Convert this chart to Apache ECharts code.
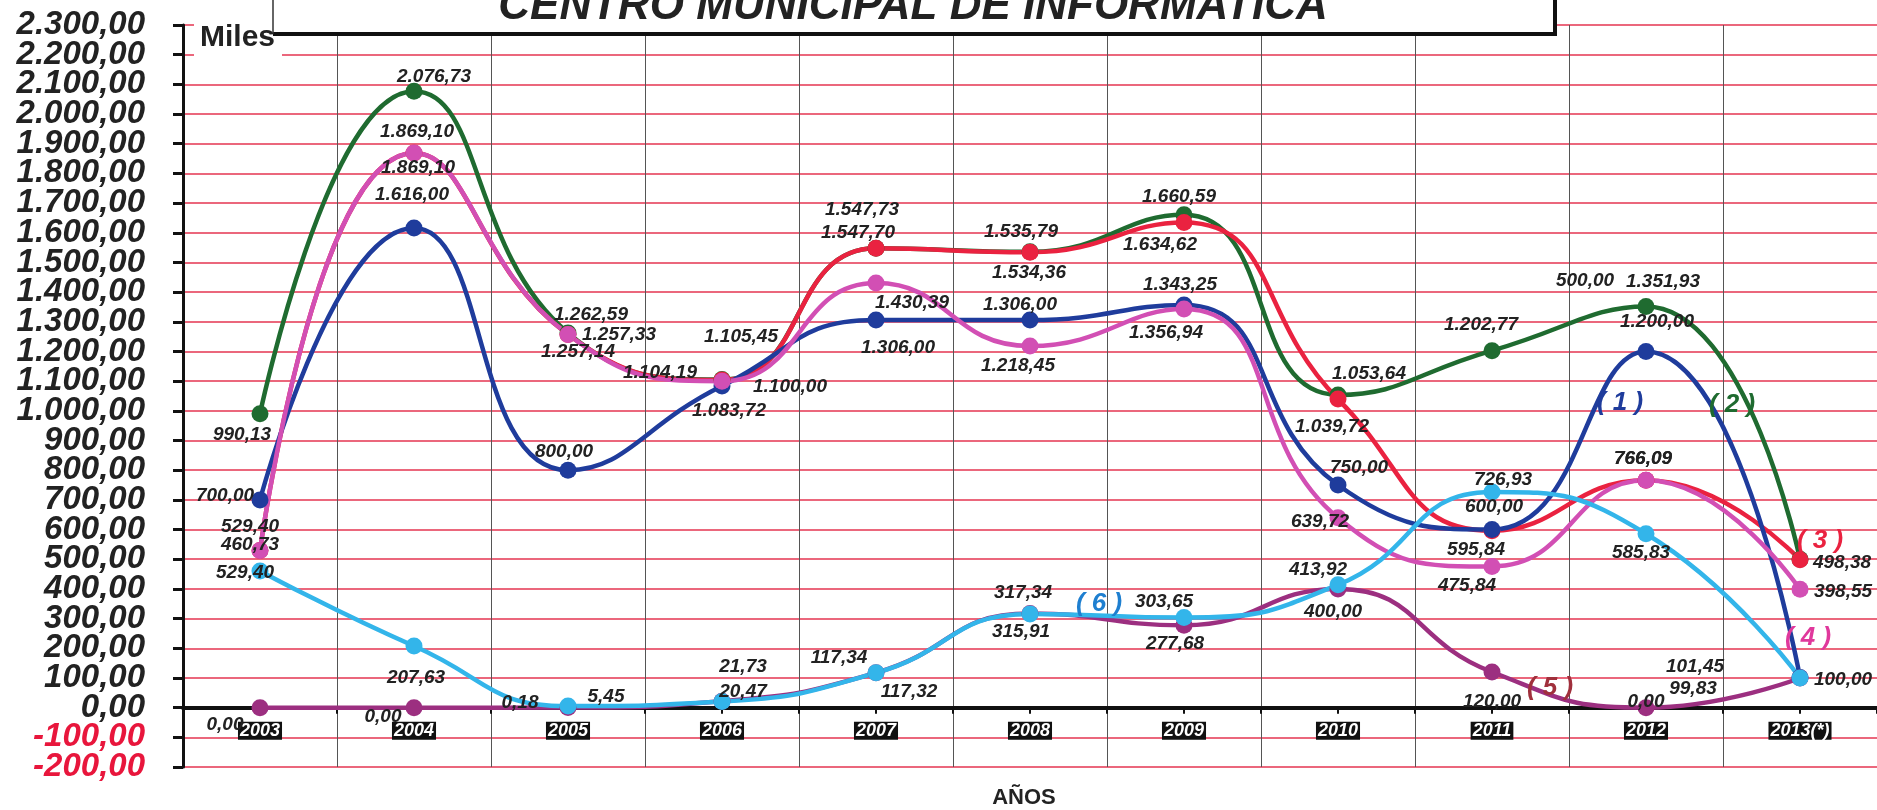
<!DOCTYPE html>
<html>
<head>
<meta charset="utf-8">
<script src="https://cdn.jsdelivr.net/npm/echarts@6/dist/echarts.min.js"></script>
<style>
html,body{margin:0;padding:0;background:#fff;}
#chart{width:1877px;height:810px;}
</style>
</head>
<body>
<div id="chart"></div>
<script>
// ---- data ----
const years = ['2003','2004','2005','2006','2007','2008','2009','2010','2011','2012','2013(*)'];
const serie1 = [700.00, 1616.00, 800.00, 1083.72, 1306.00, 1306.00, 1356.94, 750.00, 600.00, 1200.00, 101.45];
const serie2 = [990.13, 2076.73, 1262.59, 1105.45, 1547.73, 1535.79, 1660.59, 1053.64, 1202.77, 1351.93, 500.00];
const serie3 = [529.40, 1869.10, 1257.33, 1104.19, 1547.70, 1534.36, 1634.62, 1039.72, 595.84, 766.09, 498.38];
const serie4 = [529.40, 1869.10, 1257.14, 1100.00, 1430.39, 1218.45, 1343.25, 639.72, 475.84, 766.09, 398.55];
const serie5 = [0.00, 0.00, 0.18, 21.73, 117.34, 317.34, 277.68, 400.00, 120.00, 0.00, 99.83];
const serie6 = [460.73, 207.63, 5.45, 20.47, 117.32, 315.91, 303.65, 413.92, 726.93, 585.83, 100.00];
const yMin = -200, yMax = 2300, yStep = 100;

// ---- label placement (style) ----
const off1 = [[-35,-4],[-2,-33],[-4,-18],[7,25],[22,28],[-10,-15],[-18,28],[21,-17],[2,-23],[11,-30],[-105,-11]];
const off2 = [[-18,21],[20,-15],[23,-18],[19,-43],[-14,-39],[-9,-20],[-5,-18],[31,-21],[-11,-26],[17,-25],[-215,-278]];
const off3 = [[-10,-24],[3,-21],[51,0],[-62,-7],[-18,-16],[-1,21],[-24,22],[-6,28],[-16,19],[-3,-21],[42,3]];
const off4 = [[-15,22],[4,15],[10,17],[68,6],[36,20],[-12,20],[-4,-24],[-18,4],[-25,19],[-3,-21],[43,2]];
const off5 = [[-35,17],[-31,9],[-48,-5],[21,-34],[-37,-15],[-7,-21],[-9,19],[-5,23],[0,30],[0,-6],[-107,11]];
const off6 = [[-10,-26],[2,32],[38,-9],[21,-10],[33,19],[-9,18],[-20,-16],[-20,-15],[11,-12],[-5,19],[43,2]];

function fmt(v){
  const neg = v < 0;
  const s = Math.abs(v).toFixed(2).split('.');
  const a = s[0].replace(/\B(?=(\d{3})+(?!\d))/g, '.');
  return (neg ? '-' : '') + a + ',' + s[1];
}

const FONT = "'Liberation Sans', Arial, sans-serif";
const GRID = {left: 183, right: 0, top: 25, bottom: 43};
const gridH = 810 - GRID.top - GRID.bottom;
// move the category axis up to the zero line of the value axis
const zeroOffset = -((0 - yMin) / (yMax - yMin)) * gridH;

function mkSeries(name, vals, offs, color){
  return {
    name: name,
    type: 'line',
    smooth: 0.5,
    symbol: 'circle',
    symbolSize: 17,
    lineStyle: {color: color, width: 4.5},
    itemStyle: {color: color},
    label: {
      show: true,
      position: 'inside',
      formatter: p => fmt(p.value),
      color: '#222',
      fontSize: 19,
      fontStyle: 'italic',
      fontWeight: 'bold',
      fontFamily: FONT
    },
    data: vals.map((v, i) => ({value: v, label: {offset: offs[i]}}))
  };
}

const chart = echarts.init(document.getElementById('chart'), null, {renderer: 'canvas'});

const annFont = "italic bold 26px 'Liberation Sans', Arial, sans-serif";
function ann(x, y, t, c){
  return {type: 'text', z: 101, style: {x: x, y: y, text: t, font: annFont, fill: c,
    textAlign: 'center', textVerticalAlign: 'middle'}};
}

const yRich = {
  pos: {color: '#222', fontSize: 33, fontStyle: 'italic', fontWeight: 'bold', fontFamily: FONT},
  neg: {color: '#e8163c', fontSize: 33, fontStyle: 'italic', fontWeight: 'bold', fontFamily: FONT}
};
function yLabel(parity){
  return v => {
    const k = Math.round((v - yMin) / yStep);
    if (k % 2 !== parity) return '';
    return v < 0 ? '{neg|' + fmt(v) + '}' : '{pos|' + fmt(v) + '}';
  };
}

const option = {
  animation: false,
  backgroundColor: '#fff',
  grid: {left: GRID.left, right: GRID.right, top: GRID.top, bottom: GRID.bottom, containLabel: false},
  xAxis: [{
    type: 'category',
    data: years,
    position: 'bottom',
    offset: zeroOffset,
    boundaryGap: true,
    axisLine: {show: false, onZero: false},
    axisTick: {show: true, alignWithLabel: true, length: 6, lineStyle: {color: '#111', width: 2}},
    axisLabel: {show: false},
    splitLine: {show: true, lineStyle: {color: '#555', width: 1}}
  }, {
    type: 'category',
    data: years,
    position: 'bottom',
    offset: zeroOffset,
    boundaryGap: true,
    axisLine: {show: true, onZero: false, lineStyle: {color: '#111', width: 4}},
    axisTick: {show: true, length: 6, lineStyle: {color: '#111', width: 2}},
    axisLabel: {
      show: true, interval: 0, margin: 14, color: '#fff', backgroundColor: '#111',
      fontSize: 18, fontStyle: 'italic', fontWeight: 'bold', fontFamily: FONT,
      padding: [0, 2, 0, 2], lineHeight: 18
    },
    splitLine: {show: false}
  }],
  yAxis: [{
    type: 'value',
    min: yMin, max: yMax, interval: yStep,
    axisLine: {show: true, onZero: false, lineStyle: {color: '#111', width: 3}},
    axisTick: {show: true, inside: false, length: 10, lineStyle: {color: '#111', width: 3}},
    axisLabel: {margin: 38, showMinLabel: true, showMaxLabel: true, formatter: yLabel(0), rich: yRich},
    splitLine: {show: true, lineStyle: {color: '#e53450', width: 1.5}}
  }, {
    type: 'value',
    position: 'left',
    min: yMin, max: yMax, interval: yStep,
    axisLine: {show: false, onZero: false},
    axisTick: {show: false},
    axisLabel: {margin: 38, showMinLabel: true, showMaxLabel: true, formatter: yLabel(1), rich: yRich},
    splitLine: {show: false}
  }],
  series: [
    mkSeries('(2)', serie2, off2, '#1f6b30'),
    mkSeries('(3)', serie3, off3, '#ea2240'),
    mkSeries('(1)', serie1, off1, '#1f3c9c'),
    mkSeries('(4)', serie4, off4, '#d24fb4'),
    mkSeries('(5)', serie5, off5, '#9c2f80'),
    mkSeries('(6)', serie6, off6, '#33b5ea')
  ],
  graphic: [
    {type: 'rect', z: 100, shape: {x: 273, y: -10, width: 1282, height: 44},
     style: {fill: '#fff', stroke: null}},
    {type: 'polyline', z: 101, shape: {points: [[273, 34], [1555, 34], [1555, -5]]},
     style: {stroke: '#111', lineWidth: 4, fill: null}},
    {type: 'line', z: 101, shape: {x1: 273, y1: 0, x2: 273, y2: 34},
     style: {stroke: '#333', lineWidth: 1.5}},
    {type: 'text', z: 101, style: {x: 913, y: 7, text: 'CENTRO MUNICIPAL DE INFORMATICA',
      font: "italic bold 44px 'Liberation Sans', Arial, sans-serif", fill: '#222',
      textAlign: 'center', textVerticalAlign: 'middle'}},
    {type: 'rect', z: 100, shape: {x: 194, y: 15, width: 88, height: 43},
     style: {fill: '#fff', stroke: null}},
    {type: 'text', z: 102, style: {x: 200, y: 38, text: 'Miles',
      font: "bold 30px 'Liberation Sans', Arial, sans-serif", fill: '#222',
      textAlign: 'left', textVerticalAlign: 'middle'}},
    {type: 'text', z: 101, style: {x: 1024, y: 798, text: 'AÑOS',
      font: "bold 22px 'Liberation Sans', Arial, sans-serif", fill: '#222',
      textAlign: 'center', textVerticalAlign: 'middle'}},
    ann(1620, 403, '( 1 )', '#1f3c9c'),
    ann(1732, 405, '( 2 )', '#1f6b30'),
    ann(1820, 541, '( 3 )', '#ea2240'),
    ann(1808, 638, '( 4 )', '#e0389c'),
    ann(1550, 688, '( 5 )', '#a0303c'),
    ann(1099, 604, '( 6 )', '#1e7fd0')
  ]
};
chart.setOption(option);
</script>
</body>
</html>
